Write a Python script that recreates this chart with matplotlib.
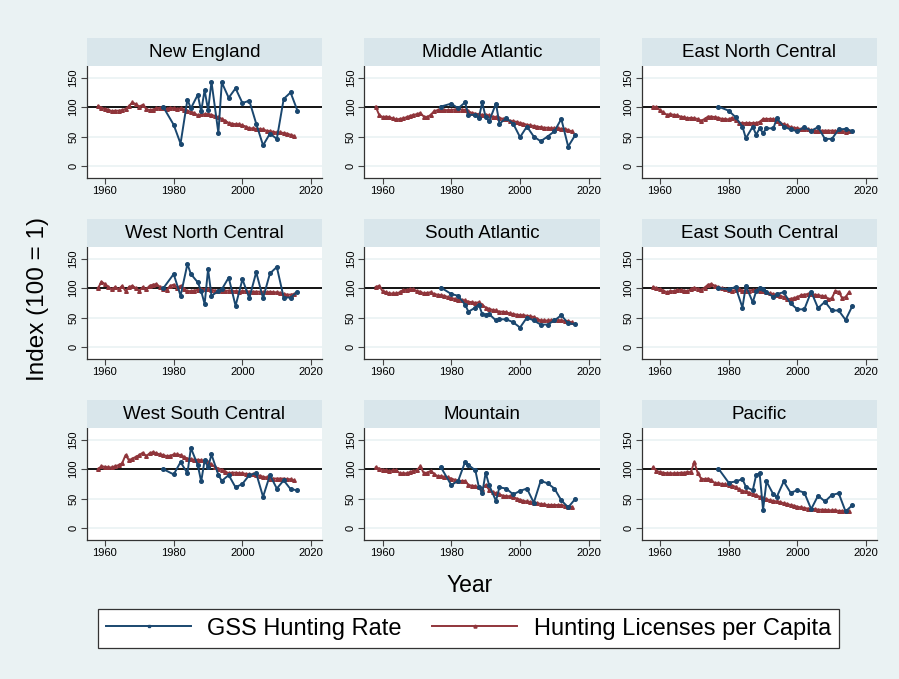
import numpy as np
import matplotlib
matplotlib.use('Agg')
from matplotlib import pyplot as plt
from matplotlib.lines import Line2D

plt.rcParams['font.family'] = ['Liberation Sans', 'DejaVu Sans']

# years
lic_years = list(range(1958, 2016))
gss_years = [1977, 1980, 1982, 1984, 1985, 1987, 1988, 1989, 1990, 1991, 1993, 1994,
             1996, 1998, 2000, 2002, 2004, 2006, 2008, 2010, 2012, 2014, 2016]

# hunting licenses per capita (index), 1958-2015
ne_lic = [102, 99, 97, 96, 93, 94, 94, 95, 97, 102, 108, 105, 101, 104, 97, 95, 96, 98, 99, 99,
          97, 99, 98, 97, 98, 96, 94, 92, 90, 86, 88, 88, 88, 87, 85, 83, 80, 77, 73, 72,
          71, 71, 69, 67, 64, 64, 63, 63, 62, 60, 59, 58, 57, 57, 56, 55, 53, 51]
ma_lic = [101, 87, 83, 84, 83, 81, 79, 80, 81, 83, 85, 87, 88, 90, 84, 83, 87, 93, 95, 95,
          95, 95, 95, 96, 96, 96, 95, 93, 90, 89, 88, 87, 87, 86, 84, 83, 82, 80, 79, 77,
          76, 75, 73, 72, 70, 69, 68, 67, 66, 65, 65, 64, 64, 64, 63, 63, 61, 59]
enc_lic = [101, 100, 95, 91, 87, 88, 87, 86, 84, 83, 81, 82, 81, 80, 77, 80, 84, 84, 83, 82,
           80, 80, 79, 82, 78, 73, 73, 73, 73, 73, 73, 75, 80, 80, 80, 80, 77, 73, 71, 69,
           66, 65, 64, 63, 62, 62, 61, 60, 60, 60, 60, 60, 60, 60, 59, 59, 58, 59]
wnc_lic = [100, 111, 107, 102, 98, 102, 98, 104, 95, 102, 104, 100, 95, 102, 98, 104, 106, 107, 102, 98,
           97, 104, 106, 101, 104, 98, 95, 95, 96, 97, 98, 98, 98, 97, 96, 95, 95, 95, 96, 95,
           95, 94, 95, 95, 94, 94, 94, 94, 93, 93, 94, 93, 93, 92, 90, 89, 89, 90]
sa_lic = [102, 104, 95, 93, 91, 91, 91, 93, 97, 97, 98, 98, 95, 94, 91, 92, 93, 90, 89, 88,
          87, 85, 83, 82, 80, 80, 79, 77, 76, 75, 76, 72, 67, 65, 63, 62, 60, 60, 59, 57,
          56, 55, 54, 54, 53, 52, 51, 48, 45, 45, 45, 45, 45, 45, 45, 44, 44, 42]
esc_lic = [102, 100, 98, 96, 93, 95, 95, 97, 97, 96, 95, 98, 101, 99, 97, 101, 106, 107, 104, 102,
           100, 98, 97, 95, 97, 98, 96, 95, 96, 97, 97, 96, 95, 93, 91, 90, 88, 87, 85, 81,
           82, 83, 85, 88, 89, 90, 90, 89, 88, 87, 86, 81, 83, 95, 94, 83, 85, 93]
wsc_lic = [100, 105, 104, 103, 103, 105, 107, 110, 124, 115, 118, 121, 124, 128, 122, 127, 129, 127, 125, 124,
           122, 123, 125, 125, 124, 121, 118, 117, 116, 116, 115, 114, 112, 108, 104, 101, 99, 96, 93, 94,
           94, 93, 93, 92, 91, 91, 90, 89, 87, 86, 84, 84, 84, 84, 84, 83, 83, 81]
mtn_lic = [103, 101, 99, 98, 97, 98, 98, 93, 93, 93, 95, 97, 98, 105, 93, 94, 97, 92, 88, 88,
           87, 86, 84, 82, 80, 80, 80, 73, 72, 71, 69, 67, 73, 65, 61, 59, 57, 55, 54, 54,
           53, 50, 48, 46, 45, 44, 43, 42, 41, 40, 39, 39, 39, 39, 39, 38, 36, 36]
pac_lic = [103, 97, 95, 94, 93, 93, 93, 93, 94, 94, 95, 95, 112, 93, 84, 83, 84, 81, 76, 76,
           75, 74, 73, 72, 70, 66, 63, 62, 60, 58, 56, 53, 51, 49, 47, 46, 45, 44, 42, 41,
           39, 38, 36, 35, 34, 33, 32, 32, 31, 31, 31, 30, 30, 30, 29, 29, 28, 28]

# GSS hunting rate (index)
ne_gss = [100, 70, 38, 113, 98, 121, 93, 129, 95, 143, 56, 142, 116, 132, 107, 111, 72, 35, 55, 46, 114, 125, 94]
ma_gss = [101, 106, 98, 108, 87, 87, 81, 108, 83, 76, 106, 72, 81, 72, 49, 67, 50, 42, 50, 59, 80, 33, 52]
enc_gss = [101, 94, 83, 67, 47, 67, 53, 64, 56, 64, 64, 81, 67, 62, 59, 66, 60, 66, 46, 46, 62, 63, 59]
wnc_gss = [100, 124, 87, 141, 124, 110, 95, 73, 132, 87, 95, 98, 118, 70, 115, 83, 127, 83, 125, 136, 84, 84, 94]
sa_gss = [101, 90, 87, 72, 60, 67, 72, 56, 55, 56, 45, 47, 47, 42, 33, 50, 45, 38, 38, 45, 54, 40, 39]
esc_gss = [100, 98, 102, 67, 104, 76, 95, 101, 98, 93, 85, 90, 93, 74, 64, 64, 94, 66, 77, 62, 62, 46, 70]
wsc_gss = [100, 91, 112, 93, 136, 107, 79, 115, 103, 125, 90, 80, 90, 69, 75, 90, 93, 53, 90, 67, 81, 66, 64]
mtn_gss = [103, 73, 80, 112, 107, 98, 70, 59, 94, 73, 46, 69, 67, 57, 63, 67, 43, 80, 76, 67, 47, 35, 49]
pac_gss = [101, 77, 79, 83, 70, 64, 90, 93, 31, 79, 57, 53, 79, 60, 64, 60, 32, 55, 45, 56, 59, 28, 39]

regions = ['New England', 'Middle Atlantic', 'East North Central',
           'West North Central', 'South Atlantic', 'East South Central',
           'West South Central', 'Mountain', 'Pacific']
lic_series = [ne_lic, ma_lic, enc_lic, wnc_lic, sa_lic, esc_lic, wsc_lic, mtn_lic, pac_lic]
gss_series = [ne_gss, ma_gss, enc_gss, wnc_gss, sa_gss, esc_gss, wsc_gss, mtn_gss, pac_gss]

blue = '#1a476f'
red = '#90353b'
bg = '#eaf2f3'
strip = '#d9e6eb'

W, H = 899, 679
fig = plt.figure(figsize=(W / 100, H / 100), dpi=100, facecolor=bg)

col_left = [86.7, 364.3, 641.7]
col_w = 235.5
row_top = [66, 247, 428]
row_h = 111.7
strip_h = 28

for i, name in enumerate(regions):
    r, c = divmod(i, 3)
    x0 = col_left[c]
    y0 = row_top[r]
    ax = fig.add_axes([x0 / W, 1 - (y0 + row_h) / H, col_w / W, row_h / H])
    ax.set_facecolor('white')
    ax.set_xlim(1954.7, 2023.2)
    ax.set_ylim(-20, 170)
    for yy in [0, 50, 150]:
        ax.axhline(yy, color=bg, lw=1.2, zorder=0)
    ax.axhline(100, color='black', lw=1.3, zorder=1)
    ax.plot(gss_years, gss_series[i], color=blue, lw=1.4, marker='o', ms=2.6, zorder=3)
    ax.plot(lic_years, lic_series[i], color=red, lw=1.4, marker='^', ms=2.6, zorder=2)
    ax.set_xticks([1960, 1980, 2000, 2020])
    ax.set_yticks([0, 50, 100, 150])
    ax.tick_params(axis='both', direction='out', length=4, width=0.8, color='#444444',
                   labelsize=8, pad=2)
    plt.setp(ax.get_yticklabels(), rotation=90, va='center')
    for s in ['top', 'right']:
        ax.spines[s].set_visible(False)
    for s in ['left', 'bottom']:
        ax.spines[s].set_color('#333333')
        ax.spines[s].set_linewidth(0.9)

    sax = fig.add_axes([x0 / W, 1 - y0 / H, col_w / W, strip_h / H])
    sax.set_facecolor(strip)
    sax.set_xticks([])
    sax.set_yticks([])
    for s in sax.spines.values():
        s.set_visible(False)
    sax.text(0.5, 0.47, name, ha='center', va='center', fontsize=13.5,
             transform=sax.transAxes)

fig.text(38 / W, 1 - 299 / H, 'Index (100 = 1)', rotation=90, ha='center', va='center',
         fontsize=17.5)
fig.text(470 / W, 1 - 585 / H, 'Year', ha='center', va='center', fontsize=16.5)

handles = [Line2D([], [], color=blue, lw=1.4, marker='s', ms=2.0),
           Line2D([], [], color=red, lw=1.4, marker='^', ms=2.2)]
leg = fig.legend(handles, ['GSS Hunting Rate', 'Hunting Licenses per Capita'],
                 loc='center', ncol=2, fontsize=17,
                 bbox_to_anchor=(468.5 / W, 1 - 628.5 / H),
                 handlelength=3.6, handletextpad=0.68, columnspacing=1.3,
                 borderpad=0.35, borderaxespad=0, fancybox=False,
                 edgecolor='#333333', framealpha=1)
leg.get_frame().set_linewidth(0.9)

fig.savefig('out.png', dpi=100, facecolor=bg)
